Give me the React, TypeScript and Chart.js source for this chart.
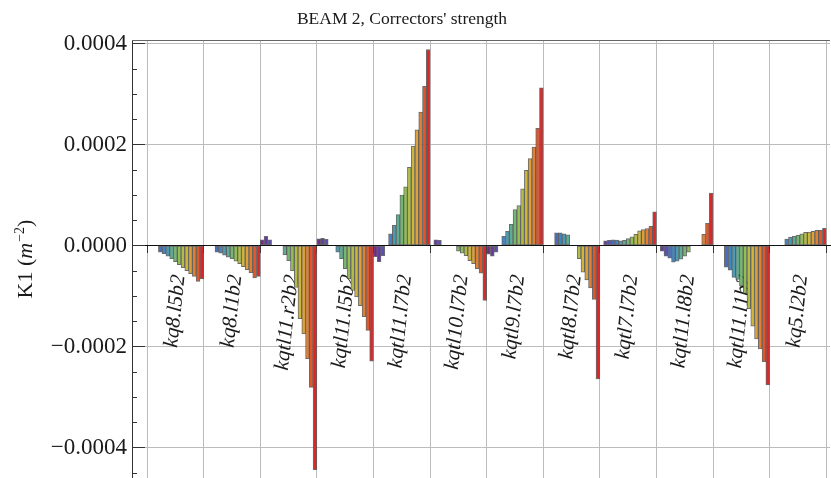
import React, { useEffect, useRef } from 'react';
import { Chart, registerables } from 'chart.js';

Chart.register(...registerables);

// ---------- text ----------
const TITLE = "BEAM 2, Correctors' strength";
const Y_TITLE_MAIN = 'K1 (';
const Y_TITLE_VAR = 'm';
const Y_TITLE_EXP = '\u22122';
const Y_TITLE_END = ')';

// ---------- categories ----------
const correctors = [
  'kq8.l5b2',
  'kq8.l1b2',
  'kqtl11.r2b2',
  'kqtl11.l5b2',
  'kqtl11.l7b2',
  'kqtl10.l7b2',
  'kqtl9.l7b2',
  'kqtl8.l7b2',
  'kqtl7.l7b2',
  'kqtl11.l8b2',
  'kqtl11.l1b2',
  'kq5.l2b2',
];

// ---------- values (units of 1e-5 m^-2), 15 steps per corrector ----------
const UNIT = 1e-5;
const kq8_l5b2 = [0, 0, 0, -1.3, -1.6, -2.1, -2.6, -3.2, -3.8, -4.4, -5.0, -5.6, -6.1, -7.1, -6.6];
const kq8_l1b2 = [0, 0, 0, -1.3, -1.5, -1.9, -2.3, -2.6, -3.1, -3.6, -4.2, -4.8, -5.4, -6.4, -6.1];
const kqtl11_r2b2 = [1.1, 1.8, 1.1, 0, 0, 0, -1.8, -3.0, -5.0, -8.3, -14.5, -17.5, -22.4, -28.1, -44.4];
const kqtl11_l5b2 = [1.3, 1.4, 1.2, 0, 0, -1.3, -2.6, -4.6, -6.6, -8.9, -10.2, -11.9, -14.1, -16.8, -22.9];
const kqtl11_l7b2 = [-2.2, -3.2, -2.0, 0, 2.3, 4.0, 6.1, 10.0, 11.6, 15.5, 19.7, 22.9, 26.4, 31.5, 38.8];
const kqtl10_l7b2 = [0, 1.1, 1.0, 0, 0, 0, 0, -1.1, -1.5, -2.0, -3.0, -3.6, -4.6, -5.5, -10.9];
const kqtl9_l7b2 = [-1.7, -2.1, -1.3, 0, 1.8, 2.8, 4.2, 7.1, 7.9, 11.2, 14.9, 17.2, 19.5, 23.2, 31.2];
const kqtl8_l7b2 = [0, 0, 0, 2.5, 2.5, 2.3, 2.1, 0, 0, -2.6, -5.3, -6.8, -8.4, -10.7, -26.4];
const kqtl7_l7b2 = [0, 0.9, 1.0, 1.1, 1.05, 0.9, 1.0, 1.35, 1.7, 2.2, 2.9, 3.15, 3.35, 3.8, 6.65];
const kqtl11_l8b2 = [0, -1.1, -2.1, -2.5, -3.3, -3.1, -2.7, -2.1, -1.3, 0, 0, 0, 2.2, 4.4, 10.4];
const kqtl11_l1b2 = [0, 0, 0, -4.3, -4.9, -6.3, -6.7, -8.0, -9.5, -12.5, -16.0, -18.5, -20.5, -23.0, -27.6];
const kq5_l2b2 = [0, 0, 0, 0, 1.25, 1.65, 1.8, 2.0, 2.3, 2.6, 2.65, 2.8, 3.0, 3.0, 3.4];

const groups = [
  kq8_l5b2, kq8_l1b2, kqtl11_r2b2, kqtl11_l5b2, kqtl11_l7b2, kqtl10_l7b2,
  kqtl9_l7b2, kqtl8_l7b2, kqtl7_l7b2, kqtl11_l8b2, kqtl11_l1b2, kq5_l2b2,
];

// ---------- axis ticks ----------
const yMajorTicks = [-0.0004, -0.0002, 0, 0.0002, 0.0004];
const Y_MIN = -0.0004604;
const Y_MAX = 0.0004069;
const Y_STEP = 0.0002;
const Y_MINOR_STEP = 0.00005;

// ---------- colours (rainbow, violet -> red) ----------
const rainbowStops: [number, number, number, number][] = [
  [0.0, 112, 42, 135],
  [0.1, 96, 66, 168],
  [0.2, 76, 104, 190],
  [0.3, 64, 138, 196],
  [0.4, 84, 168, 164],
  [0.5, 116, 184, 112],
  [0.6, 160, 192, 76],
  [0.7, 204, 186, 60],
  [0.8, 226, 156, 54],
  [0.9, 226, 106, 46],
  [1.0, 218, 40, 40],
];
function rainbow(t: number): string {
  for (let i = 0; i < rainbowStops.length - 1; i++) {
    const a = rainbowStops[i];
    const b = rainbowStops[i + 1];
    if (t <= b[0]) {
      const f = (t - a[0]) / (b[0] - a[0]);
      const c = [1, 2, 3].map((k) => Math.round(a[k] + (b[k] - a[k]) * f));
      return `rgb(${c[0]},${c[1]},${c[2]})`;
    }
  }
  const l = rainbowStops[rainbowStops.length - 1];
  return `rgb(${l[1]},${l[2]},${l[3]})`;
}

const STEPS = 15;
const PAD_LEFT = 4;
const PAD_RIGHT = 1;
const LABEL_STEP = 8;

const stepColors = Array.from({ length: STEPS }, (_, j) => rainbow(j / (STEPS - 1)));

// flat table for the category scale
const labels: string[] = [];
const flatData: (number | null)[] = [];
const flatColors: string[] = [];
for (let i = 0; i < PAD_LEFT; i++) {
  labels.push('');
  flatData.push(null);
  flatColors.push('rgba(0,0,0,0)');
}
groups.forEach((vals, g) => {
  vals.forEach((v, j) => {
    labels.push(j === LABEL_STEP ? correctors[g] : '');
    flatData.push(v * UNIT);
    flatColors.push(stepColors[j]);
  });
});
for (let i = 0; i < PAD_RIGHT; i++) {
  labels.push('');
  flatData.push(null);
  flatColors.push('rgba(0,0,0,0)');
}
const isBoundary = (idx: number) =>
  idx >= PAD_LEFT && (idx - PAD_LEFT) % STEPS === 0 && idx - PAD_LEFT <= groups.length * STEPS;

const SERIF = '"Liberation Serif", "Times New Roman", serif';

const decorations = {
  id: 'decorations',
  afterDraw(chart: any) {
    const { ctx, chartArea: ca } = chart;
    const y = chart.scales.y;
    ctx.save();
    // top frame
    ctx.strokeStyle = '#666';
    ctx.lineWidth = 1;
    ctx.beginPath();
    const ty = Math.round(ca.top) + 0.5;
    ctx.moveTo(ca.left, ty);
    ctx.lineTo(ca.right, ty);
    ctx.stroke();

    // inward y ticks
    ctx.strokeStyle = '#333';
    const x0 = Math.round(ca.left);
    for (let v = Math.ceil(Y_MIN / Y_MINOR_STEP) * Y_MINOR_STEP; v <= Y_MAX + 1e-12; v += Y_MINOR_STEP) {
      const major = yMajorTicks.some((m) => Math.abs(m - v) < 1e-9);
      const py = Math.round(y.getPixelForValue(v)) + 0.5;
      ctx.beginPath();
      ctx.moveTo(x0, py);
      ctx.lineTo(x0 + (major ? 13 : 5), py);
      ctx.stroke();
    }

    // title
    ctx.fillStyle = '#1a1a1a';
    ctx.font = `17.5px ${SERIF}`;
    ctx.textAlign = 'center';
    ctx.textBaseline = 'alphabetic';
    ctx.fillText(TITLE, 402, 24);

    // y-axis title
    ctx.translate(32, (ca.top + ca.bottom) / 2);
    ctx.rotate(-Math.PI / 2);
    ctx.textAlign = 'left';
    const fMain = `22px ${SERIF}`;
    const fVar = `italic 22px ${SERIF}`;
    const fExp = `14px ${SERIF}`;
    ctx.font = fMain;
    const w1 = ctx.measureText(Y_TITLE_MAIN).width;
    const w4 = ctx.measureText(Y_TITLE_END).width;
    ctx.font = fVar;
    const w2 = ctx.measureText(Y_TITLE_VAR).width + 1;
    ctx.font = fExp;
    const w3 = ctx.measureText(Y_TITLE_EXP).width;
    let cx = -(w1 + w2 + w3 + w4) / 2;
    ctx.font = fMain;
    ctx.fillText(Y_TITLE_MAIN, cx, 0);
    cx += w1;
    ctx.font = fVar;
    ctx.fillText(Y_TITLE_VAR, cx, 0);
    cx += w2;
    ctx.font = fExp;
    ctx.fillText(Y_TITLE_EXP, cx, -8);
    cx += w3;
    ctx.font = fMain;
    ctx.fillText(Y_TITLE_END, cx, 0);
    ctx.restore();
  },
};

export default function App() {
  const ref = useRef<HTMLCanvasElement | null>(null);
  useEffect(() => {
    if (!ref.current) return;
    const chart = new Chart(ref.current, {
      type: 'bar',
      data: {
        labels,
        datasets: [
          {
            data: flatData,
            backgroundColor: flatColors,
            borderColor: 'rgba(70,70,70,0.8)',
            borderWidth: 1,
            borderSkipped: false,
            barPercentage: 1,
            categoryPercentage: 1,
          },
        ],
      },
      options: {
        responsive: false,
        animation: false,
        devicePixelRatio: 1,
        events: [],
        layout: { padding: { top: 40, left: 0, right: 1, bottom: 0 } },
        plugins: {
          legend: { display: false },
          tooltip: { enabled: false },
          title: { display: false },
        },
        scales: {
          x: {
            type: 'category',
            position: { y: 0 },
            offset: true,
            grid: {
              offset: true,
              drawOnChartArea: true,
              drawTicks: true,
              tickLength: 7,
              lineWidth: 1,
              color: (c: any) => (isBoundary(c.index) ? '#bcbcbc' : 'rgba(0,0,0,0)'),
              tickColor: (c: any) => (isBoundary(c.index) ? '#333' : 'rgba(0,0,0,0)'),
            },
            border: { display: true, color: '#111', width: 1 },
            ticks: {
              autoSkip: false,
              maxRotation: 84,
              minRotation: 84,
              padding: 21,
              color: '#1a1a1a',
              font: { family: SERIF, size: 21, style: 'italic' },
            },
            afterFit: (s: any) => {
              s.paddingLeft = 0;
              s.paddingRight = 0;
              s.paddingTop = 0;
              s.paddingBottom = 0;
            },
          },
          y: {
            type: 'linear',
            min: Y_MIN,
            max: Y_MAX,
            grid: {
              drawTicks: false,
              lineWidth: 1,
              color: (c: any) => (c.tick && Math.abs(c.tick.value) < 1e-12 ? '#111' : '#bcbcbc'),
            },
            border: { display: true, color: '#333', width: 1 },
            ticks: {
              stepSize: Y_STEP,
              includeBounds: false,
              padding: 5,
              color: '#1a1a1a',
              font: { family: SERIF, size: 23 },
              callback: (v: any) => {
                const n = Number(v);
                const s = Math.abs(n).toFixed(4);
                return n < -1e-12 ? '\u2212' + s : s;
              },
            },
            afterFit: (s: any) => {
              s.width = 132;
              s.paddingTop = 0;
              s.paddingBottom = 0;
            },
          },
        },
      },
      plugins: [decorations],
    } as any);
    return () => chart.destroy();
  }, []);
  return (
    <div style={{ position: 'fixed', left: 0, top: 0, width: 831, height: 478, background: '#fff' }}>
      <canvas ref={ref} width={831} height={478} style={{ display: 'block' }} />
    </div>
  );
}
